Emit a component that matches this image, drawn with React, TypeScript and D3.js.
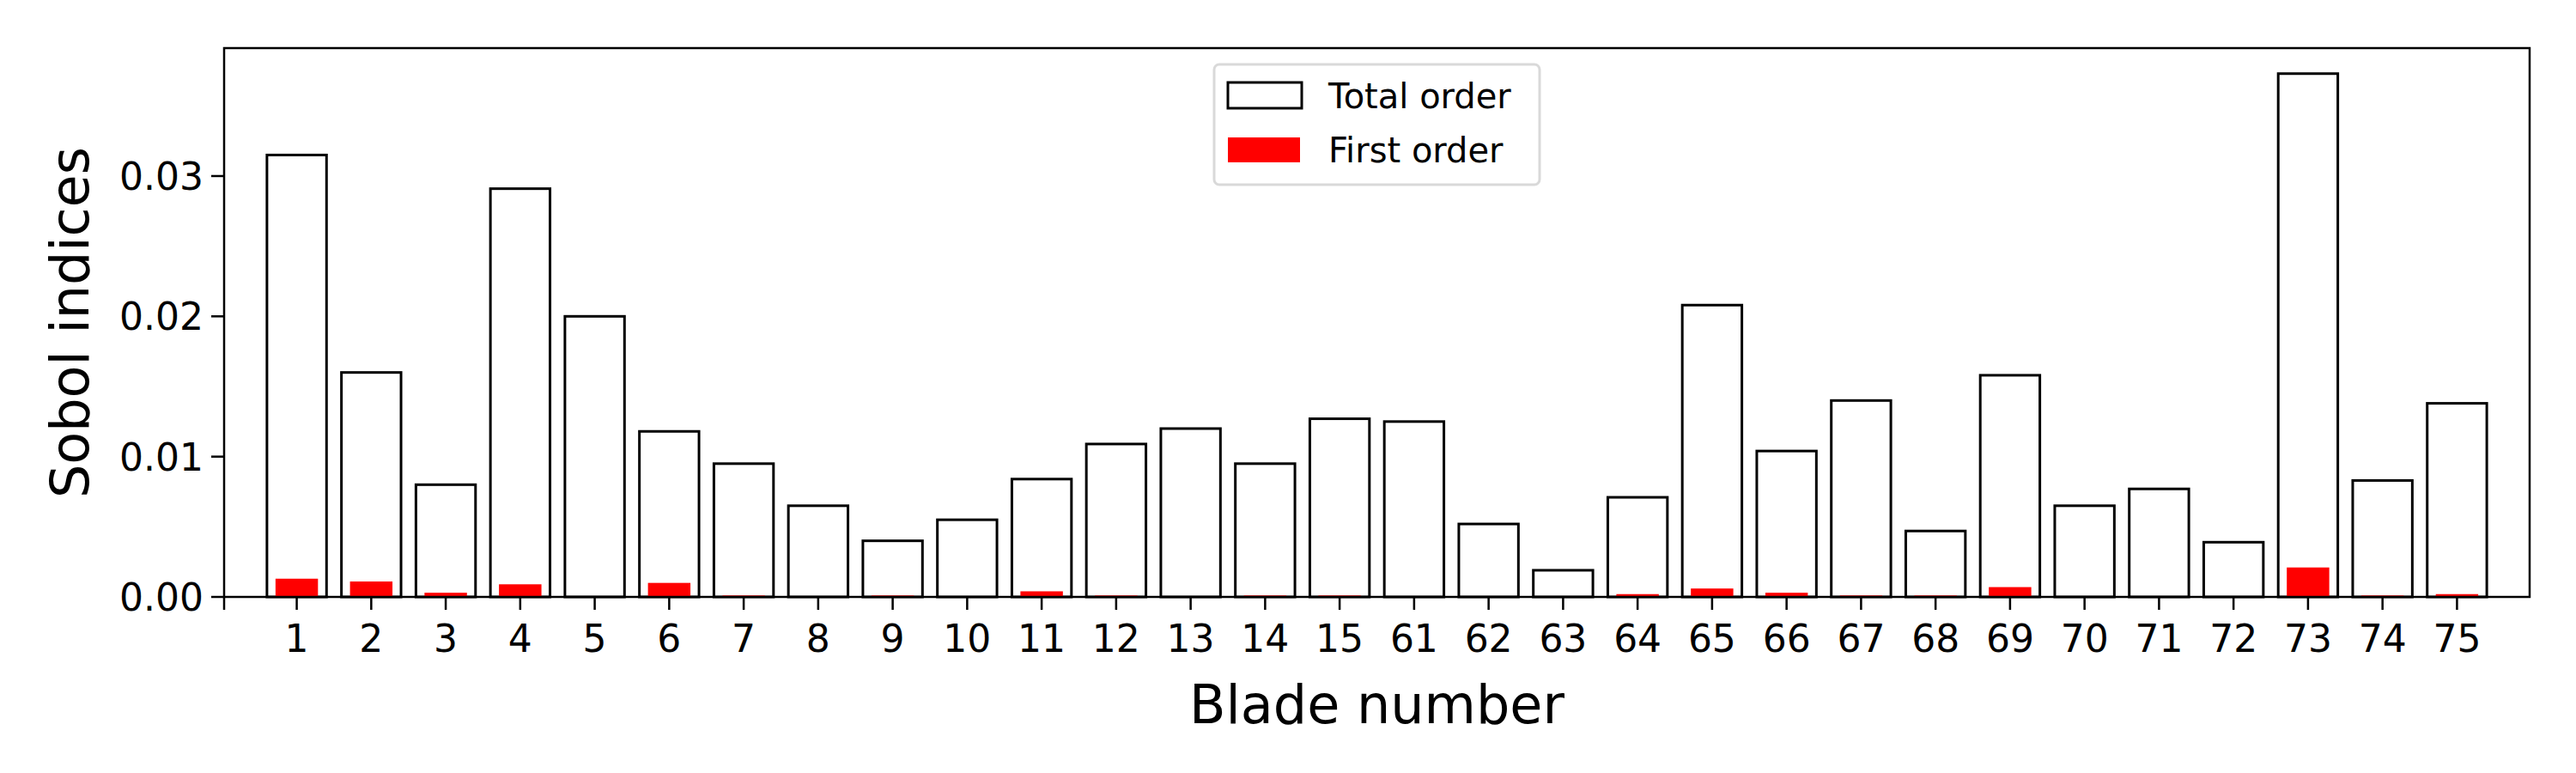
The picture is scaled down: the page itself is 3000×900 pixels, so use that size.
import React from "react";
import * as d3 from "d3";

const blades = ["1","2","3","4","5","6","7","8","9","10","11","12","13","14","15","61","62","63","64","65","66","67","68","69","70","71","72","73","74","75"];
const totalOrder = [0.0315,0.0160,0.0080,0.0291,0.0200,0.0118,0.0095,0.0065,0.0040,0.0055,0.0084,0.0109,0.0120,0.0095,0.0127,0.0125,0.0052,0.0019,0.0071,0.0208,0.0104,0.0140,0.0047,0.0158,0.0065,0.0077,0.0039,0.0373,0.0083,0.0138];
const firstOrder = [0.0013,0.0011,0.0003,0.0009,0,0.0010,0.0001,0,0.0001,0,0.0004,0.0001,0,0.0001,0.0001,0,0,0,0.0002,0.0006,0.0003,0.0001,0.0001,0.0007,0,0,0,0.0021,0.0001,0.0002];
const yTicks = [0, 0.01, 0.02, 0.03];

export default function App() {
  const L = 261, R = 2946, T = 56, B = 695;
  const n = blades.length;
  const x = d3.scaleLinear().domain([-0.975, n - 1 + 0.975]).range([L, R]);
  const y = d3.scaleLinear().domain([0, 0.03912]).range([B, T]);
  const font = "DejaVu Sans, sans-serif";
  return (
    <svg width={3000} height={900} style={{ position: "absolute", left: 0, top: 0, background: "#fff" }} fontFamily={font}>
      {blades.map((b, i) => (
        <g key={b}>
          <rect x={x(i - 0.4)} y={y(totalOrder[i])} width={x(0.8) - x(0)} height={B - y(totalOrder[i])} fill="white" stroke="black" strokeWidth={3} />
          <rect x={x(i - 0.285)} y={y(firstOrder[i])} width={x(0.57) - x(0)} height={B - y(firstOrder[i])} fill="red" />
          <line x1={x(i)} x2={x(i)} y1={B} y2={B + 15} stroke="black" strokeWidth={2.5} />
          <text x={x(i)} y={B + 64} fontSize={44} textAnchor="middle">{b}</text>
        </g>
      ))}
      <line x1={L} x2={L} y1={B} y2={B + 15} stroke="black" strokeWidth={2.5} />
      {yTicks.map((t) => (
        <g key={t}>
          <line x1={L - 15} x2={L} y1={y(t)} y2={y(t)} stroke="black" strokeWidth={2.5} />
          <text x={L - 24} y={y(t) + 16} fontSize={44} textAnchor="end">{t.toFixed(2)}</text>
        </g>
      ))}
      <rect x={L} y={T} width={R - L} height={B - T} fill="none" stroke="black" strokeWidth={2.5} />
      <text x={(L + R) / 2} y={842} fontSize={62} textAnchor="middle">Blade number</text>
      <text transform={`translate(103, ${(T + B) / 2}) rotate(-90)`} fontSize={62} textAnchor="middle">Sobol indices</text>
      <g>
        <rect x={1414} y={75} width={379} height={140} rx={6} fill="white" stroke="#d9d9d9" strokeWidth={3} />
        <rect x={1430} y={96} width={86} height={30} fill="white" stroke="black" strokeWidth={3} />
        <rect x={1430} y={160} width={84} height={29} fill="red" />
        <text x={1547} y={126} fontSize={40}>Total order</text>
        <text x={1547} y={189} fontSize={40}>First order</text>
      </g>
    </svg>
  );
}
